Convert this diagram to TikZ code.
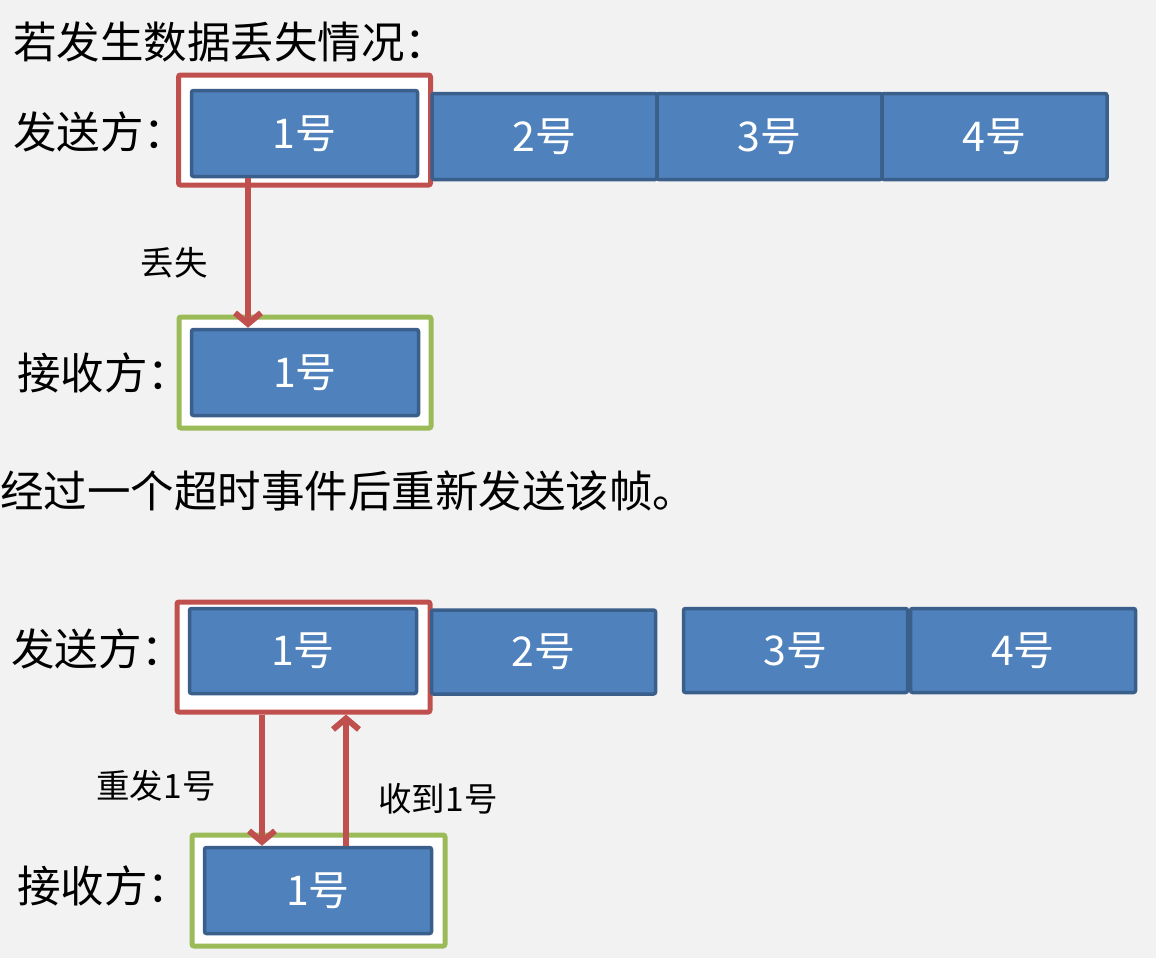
\documentclass[tikz,border=0pt]{standalone}
\usepackage{fontspec}
\setmainfont{Noto Sans CJK SC}
\usetikzlibrary{arrows.meta}
\definecolor{bgc}{HTML}{F2F2F2}
\definecolor{boxfill}{HTML}{4F81BD}
\definecolor{boxline}{HTML}{3A5F8B}
\definecolor{redc}{HTML}{C0504D}
\definecolor{greenc}{HTML}{9BBB59}
\tikzset{
  frame/.style={draw=#1, line width=5pt, fill=white, rounded corners=2pt, minimum width=252pt, minimum height=110pt, inner sep=0pt},
  pkt/.style={draw=boxline, line width=3.5pt, fill=boxfill, rounded corners=2pt, text=white, minimum height=86pt, minimum width=226pt, inner sep=0pt, font=\fontsize{41}{46}\selectfont},
  big/.style={anchor=west, inner sep=0pt, font=\fontsize{43.5}{50}\selectfont},
  small/.style={inner sep=0pt, font=\fontsize{33.5}{38}\selectfont},
  arr/.style={draw=redc, line width=6pt, -{Straight Barb[length=11pt,width=26pt]}}
}
\begin{document}
\begin{tikzpicture}[x=1pt,y=-1pt]
\fill[bgc] (0,0) rectangle (1156,958);
\useasboundingbox (0,0) rectangle (1156,958);
% ---- top part
\node[big] (title) at (13,42) {若发生数据丢失情况：};
\node[big] (sendA) at (13,132) {发送方：};
\node[frame=redc] (rfA) at (304.5,130) {};
\node[pkt] (a1) at (304.5,133.5) {1号};
\node[pkt, minimum width=225pt] (a2) at (544.5,136.5) {2号};
\node[pkt, minimum width=225pt] (a3) at (769.5,136.5) {3号};
\node[pkt, minimum width=225pt] (a4) at (994.5,136.5) {4号};
\node[frame=greenc, minimum height=111pt] (gfA) at (305,372.5) {};
\node[pkt, minimum width=227pt] (ra1) at (305,372.5) {1号};
\node[big] (recvA) at (17,373) {接收方：};
\node[small] (lost) at (174,263) {丢失};
\draw[arr] ([xshift=-56.5pt]a1.south) -- ([xshift=-57pt]ra1.north);
% ---- middle text
\node[big] (mid) at (0,491) {经过一个超时事件后重新发送该帧。};
% ---- bottom part
\node[big] (sendB) at (11,649) {发送方：};
\node[frame=redc, minimum width=253pt] (rfB) at (303.5,657) {};
\node[pkt, minimum width=227pt, minimum height=85pt] (b1) at (303,651) {1号};
\node[pkt, minimum width=224pt, minimum height=84pt] (b2) at (543.5,652) {2号};
\node[pkt, minimum width=224pt, minimum height=84pt] (b3) at (795.5,650.5) {3号};
\node[pkt, minimum width=225pt, minimum height=84pt] (b4) at (1023,650.5) {4号};
\node[frame=greenc, minimum width=253pt, minimum height=111pt] (gfB) at (318.5,890.5) {};
\node[pkt, minimum width=227pt] (rb1) at (318,890.5) {1号};
\node[big] (recvB) at (17,886) {接收方：};
\node[small] (resend) at (156,786) {重发1号};
\node[small] (ack) at (438,799) {收到1号};
\draw[arr] ([xshift=-41.5pt]rfB.south) -- ([xshift=-56pt]rb1.north);
\draw[arr] ([xshift=28pt]rb1.north) -- ([xshift=42.5pt]rfB.south);
\end{tikzpicture}
\end{document}
